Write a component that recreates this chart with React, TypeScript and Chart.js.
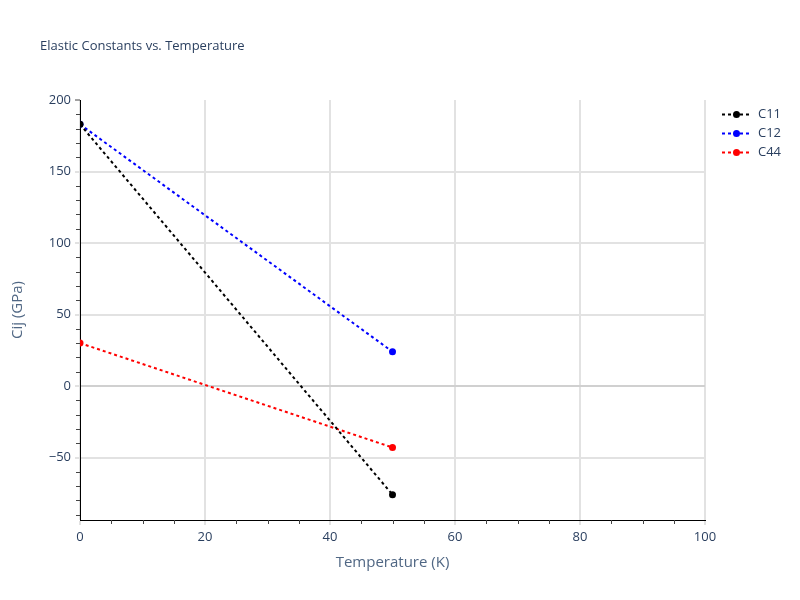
import React, { useEffect, useRef } from "react";
import { Chart, registerables } from "chart.js";

Chart.register(...registerables);

const temperatures = [0, 50];
const c11 = [183, -76];
const c12 = [183, 24];
const c44 = [30, -43];
const seriesNames = ["C11", "C12", "C44"];
const seriesColors = ["#000000", "#0000ff", "#ff0000"];
const yMajorTicks = [-50, 0, 50, 100, 150, 200];
const xMajorTicks = [0, 20, 40, 60, 80, 100];

const FONT = "'Open Sans', 'DejaVu Sans', Arial, sans-serif";
const TEXT = "#2a3f5f";
const GRID = "#e2e2e2";

const overlay = {
  id: "overlay",
  afterDraw(chart: any) {
    const ctx = chart.ctx;
    const area = chart.chartArea;
    const xs = chart.scales.x;
    const ys = chart.scales.y;
    ctx.save();
    // minor ticks
    ctx.strokeStyle = "#444";
    ctx.lineWidth = 1;
    ctx.beginPath();
    for (let v = 5; v < 100; v += 5) {
      if (v % 20 === 0) continue;
      const px = Math.round(xs.getPixelForValue(v)) + 0.5;
      ctx.moveTo(px, area.bottom);
      ctx.lineTo(px, area.bottom + 4);
    }
    for (let v = -90; v < 200; v += 10) {
      if (v % 50 === 0) continue;
      const py = Math.round(ys.getPixelForValue(v)) + 0.5;
      ctx.moveTo(area.left, py);
      ctx.lineTo(area.left - 4, py);
    }
    ctx.stroke();
    // title
    ctx.fillStyle = TEXT;
    ctx.font = `13px ${FONT}`;
    ctx.textAlign = "left";
    ctx.textBaseline = "middle";
    ctx.fillText("Elastic Constants vs. Temperature", 40, 46);
    // axis titles
    ctx.font = `15px ${FONT}`;
    ctx.fillStyle = "#506784";
    ctx.textAlign = "center";
    ctx.fillText("Temperature (K)", (area.left + area.right) / 2, 563);
    ctx.save();
    ctx.translate(18, (area.top + area.bottom) / 2);
    ctx.rotate(-Math.PI / 2);
    ctx.fillText("Cij (GPa)", 0, 0);
    ctx.restore();
    // legend
    ctx.font = `13px ${FONT}`;
    chart.data.datasets.forEach((ds: any, i: number) => {
      const y = 114.5 + i * 19;
      ctx.strokeStyle = ds.borderColor;
      ctx.lineWidth = 2;
      ctx.setLineDash([3, 3]);
      ctx.beginPath();
      ctx.moveTo(722, y);
      ctx.lineTo(751, y);
      ctx.stroke();
      ctx.setLineDash([]);
      ctx.fillStyle = ds.borderColor;
      ctx.beginPath();
      ctx.arc(736.5, y, 3.5, 0, Math.PI * 2);
      ctx.fill();
      ctx.fillStyle = TEXT;
      ctx.textAlign = "left";
      ctx.fillText(ds.label, 758, y);
    });
    ctx.restore();
  },
};

export default function App() {
  const ref = useRef<HTMLCanvasElement>(null);
  useEffect(() => {
    document.body.style.margin = "0";
    const seriesValues = [c11, c12, c44];
    const chart = new Chart(ref.current!, {
      type: "line",
      data: {
        datasets: seriesNames.map((name, i) => ({
          label: name,
          data: temperatures.map((t, j) => ({ x: t, y: seriesValues[i][j] })),
          borderColor: seriesColors[i],
          backgroundColor: seriesColors[i],
          borderWidth: 2,
          borderDash: [3, 3],
          pointRadius: 3.5,
          pointHoverRadius: 3.5,
          pointBorderWidth: 0,
          fill: false,
          tension: 0,
          clip: 0,
        })),
      },
      options: {
        responsive: false,
        animation: false,
        layout: { padding: { top: 100, right: 95, left: 0, bottom: 0 } },
        plugins: { legend: { display: false }, tooltip: { enabled: false }, title: { display: false } },
        scales: {
          x: {
            type: "linear",
            min: 0,
            max: 100,
            afterBuildTicks: (s: any) => { s.ticks = xMajorTicks.map((v) => ({ value: v })); },
            afterFit: (s: any) => { s.height = 80; },
            ticks: {
              color: TEXT,
              font: { family: FONT, size: 13 },
              padding: 4,
              maxRotation: 0,
            },
            grid: {
              color: GRID,
              lineWidth: 2,
              tickLength: 5,
              tickColor: GRID,
              tickWidth: 2,
            },
            border: { display: true, color: "#000", width: 1 },
          },
          y: {
            type: "linear",
            min: -93.7,
            max: 200,
            afterBuildTicks: (s: any) => { s.ticks = yMajorTicks.map((v) => ({ value: v })); },
            afterFit: (s: any) => { s.width = 80; },
            ticks: {
              color: TEXT,
              font: { family: FONT, size: 13 },
              padding: 4,
              callback: (v: any) => String(v).replace("-", "\u2212"),
            },
            grid: {
              color: (c: any) => (c.tick && c.tick.value === 200 ? "rgba(0,0,0,0)" : c.tick && c.tick.value === 0 ? "#d0d0d0" : GRID),
              lineWidth: 2,
              tickLength: 5,
              tickColor: (c: any) => (c.tick && c.tick.value === 200 ? "#444" : GRID),
              tickWidth: (c: any) => (c.tick && c.tick.value === 200 ? 1 : 2),
            },
            border: { display: true, color: "#000", width: 1 },
          },
        },
      },
      plugins: [overlay],
    });
    return () => chart.destroy();
  }, []);
  return (
    <div style={{ position: "fixed", left: 0, top: 0, width: 800, height: 600, background: "#fff" }}>
      <canvas ref={ref} width={800} height={600} style={{ width: 800, height: 600 }} />
    </div>
  );
}
